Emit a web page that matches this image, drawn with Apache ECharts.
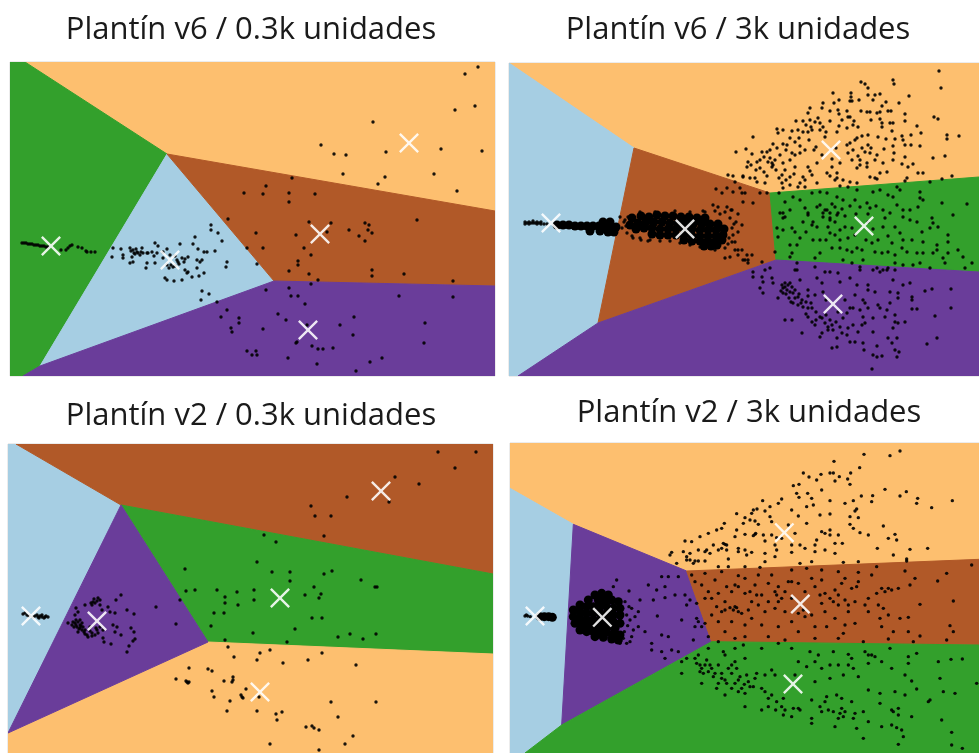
<!DOCTYPE html>
<html>
<head>
<meta charset="utf-8">
<title>Plantín</title>
<script src="https://cdn.jsdelivr.net/npm/echarts@6/dist/echarts.min.js"></script>
<style>
  html, body { margin: 0; padding: 0; background: #fff; }
  #main { width: 979px; height: 753px; filter: blur(0.7px); }
</style>
</head>
<body>
<div id="main"></div>
<script>
const blue = '#a6cee3', green = '#33a02c', brown = '#b15928', orange = '#fdbf6f', purple = '#6a3d9a';

const titles = ['Plantín v6 / 0.3k unidades', 'Plantín v6 / 3k unidades', 'Plantín v2 / 0.3k unidades', 'Plantín v2 / 3k unidades'];

// zonas de cada panel, vértices
const zonesA = [
  { color: orange, pts: [[25,62],[495,62],[495,211],[167,154]] },
  { color: green, pts: [[10,62],[25,62],[167,154],[40,366],[23,376],[10,376]] },
  { color: blue, pts: [[167,154],[274,281],[40,366]] },
  { color: brown, pts: [[167,154],[495,211],[495,286],[274,281]] },
  { color: purple, pts: [[274,281],[495,286],[495,376],[23,376],[40,366]] }
];
const zonesB = [
  { color: orange, pts: [[509,63],[979,63],[979,177],[770,193],[634,148]] },
  { color: blue, pts: [[509,63],[634,148],[598,323],[518,376],[509,376]] },
  { color: brown, pts: [[634,148],[770,193],[776,260],[598,323]] },
  { color: green, pts: [[770,193],[979,177],[979,272],[776,260]] },
  { color: purple, pts: [[598,323],[776,260],[979,272],[979,376],[518,376]] }
];
const zonesC = [
  { color: blue, pts: [[8,444],[16,444],[121,505],[8,733]] },
  { color: brown, pts: [[16,444],[493,444],[493,574],[121,505]] },
  { color: green, pts: [[121,505],[493,574],[493,654],[208,642]] },
  { color: orange, pts: [[208,642],[493,654],[493,753],[8,753],[8,733]] },
  { color: purple, pts: [[121,505],[208,642],[8,733]] }
];
const zonesD = [
  { color: orange, pts: [[15,24],[1422,24],[1422,373],[545,408],[205,268],[15,160]] },
  { color: blue, pts: [[15,160],[205,268],[170,870],[60,954],[15,954]] },
  { color: purple, pts: [[205,268],[545,408],[620,620],[170,870]] },
  { color: brown, pts: [[545,408],[1422,373],[1422,630],[620,620]] },
  { color: green, pts: [[620,620],[1422,630],[1422,954],[60,954],[170,870]] }
];

// centros (cruces blancas)
const centersA = [[51,246],[170,260],[320,234],[409,143],[308,330]];
const centersB = [[551,223],[685,229],[864,226],[831,150],[833,304]];
const centersC = [[31,616],[97,621],[280,598],[381,491],[260,692]];
const centersD = [[90,543],[292,547],[886,507],[838,293],[864,747]];

// puntos sueltos
const pointsA = [
  [22,243],[24,243],[26,243],[28,244],[30,244],[32,244],[34,245],[36,245],[38,245],[40,246],[42,246],[44,246],[46,247],[48,247],[61,250],[66,250],[68,248],[70,246],[72,245],[78,247],[82,248],[86,251],[87,252],[91,252],[95,252],
  [113,248],[121,249],[112,257],[123,255],[123,258],[130,248],[133,250],[134,253],[137,252],[132,257],[135,254],[138,253],[142,248],[140,255],[143,253],[147,253],[148,253],[155,243],[158,246],[152,252],[157,253],[154,256],[163,252],[167,249],[180,244],[195,237],[193,244],[198,249],[204,252],[207,252],[215,251],[211,225],[211,230],[218,233],[222,241],[247,248],[130,263],[133,262],[146,268],[147,263],[155,263],[165,278],[167,280],[174,281],[182,280],[185,270],[188,272],[187,273],[192,277],[199,276],[204,273],[197,268],[200,262],[197,260],[202,260],[227,262],[226,267],[202,291],[209,294],[201,300],[170,255],[171,265],[173,267],[177,260],[182,258],[185,259],[178,262],[188,257],[167,265],[163,258],[131,251],[136,249],[141,252],[175,256],[179,264],[169,268],[175,266],[184,262],
  [217,302],[227,310],[221,317],[239,318],[239,323],[231,328],[232,332],[247,351],
  [478,67],[465,74],[475,106],[455,110],[373,122],[321,145],[334,154],[346,155],[386,152],[441,149],[482,151],[343,174],[385,177],[378,184],[434,174],[457,191],[292,178],[266,186],[263,194],[289,193],[289,202],[315,194],[244,193],[228,219],
  [309,222],[331,223],[256,233],[296,235],[327,232],[349,230],[365,223],[369,225],[368,230],[372,233],[359,236],[365,241],[417,220],[263,248],[304,248],[311,255],[298,261],[298,265],[257,264],[289,271],[309,274],[318,280],[311,284],[372,270],[372,276],[404,274],[453,281],[266,290],[289,288],[291,296],[298,296],[305,304],[399,296],[453,297],[278,314],[286,320],[263,329],[307,325],[354,317],[340,325],[353,335],[425,323],[424,343],[296,343],[297,342],[312,346],[318,349],[323,349],[333,348],[256,351],[257,355],[252,355],[288,358],[317,364],[370,362],[382,358],[356,371]
];
const pointsB = [
  [939,71],[941,88],[861,82],[865,84],[868,88],[893,80],[894,84],[833,93],[851,93],[851,97],[850,101],[852,101],[859,100],[868,95],[875,95],[880,94],[873,100],[909,96],[886,102],[882,106],[899,103],[839,100],[834,103],[823,103],[822,108],[810,108],[808,113],[830,111],[838,110],[839,114],[847,111],[861,111],[867,112],[870,112],[877,113],[880,112],[888,111],[891,111],[905,114],[934,117],[938,119],[905,121],[796,121],[803,121],[810,120],[815,122],[818,118],[820,123],[830,121],[848,117],[850,117],[854,121],[853,125],[871,120],[880,119],[882,123],[882,127],[890,123],[893,123],[917,126],[777,129],[778,133],[783,130],[792,131],[798,130],[803,132],[808,132],[811,127],[823,127],[820,130],[839,126],[837,132],[847,128],[892,131],[921,133],[947,135],[947,139],[959,136],[911,135],[868,135],[862,136],[857,138],[753,137],[878,137],[886,139],[895,139],[902,136],[903,140],[905,145],[911,145],[920,146],[893,146],[799,138],[795,142],[787,145],[783,144],[809,140],[825,137],[746,149],[773,144],[777,148],[847,145],[850,143],[855,140],[862,148],[868,145],[816,147],[814,150],[762,152],[767,152],[752,154],[780,155],[792,153],[795,155],[800,153],[822,155],[853,150],[848,153],[865,152],[870,153],[877,155],[894,153],[905,157],[933,158],[945,156],[770,158],[772,163],[768,162],[760,160],[757,162],[748,162],[783,163],[790,160],[817,163],[832,159],[840,163],[852,160],[860,160],[860,165],[867,163],[875,160],[883,163],[893,160],[902,164],[913,164],[908,167],[772,167],[773,165],[747,167],[760,168],[785,170],[795,167],[808,167],[810,171],[832,167],[857,168],[867,167],[887,172],[880,173],[918,173],[923,173],[827,173],[837,173],[830,176],[750,178],[755,178],[743,176],[767,176],[782,175],[790,177],[803,177],[805,180],[817,183],[837,178],[835,180],[843,180],[850,182],[857,183],[870,177],[875,178],[907,178],[905,181],[952,176],[942,179],[930,182],[782,183],[790,185],[783,188],[798,187],[805,187],[757,182],[765,183],[840,186],[848,187],[877,179],
  [764,157],[770,150],[775,160],[756,170],[764,172],[776,170],[751,165],[779,178],[786,180],[794,174],[800,183],[812,175],[786,150],[800,146],[805,150],[790,138],[806,125],[812,130],[826,132],[842,120],[858,127],[836,148],[858,156],[871,148],[884,149],
  [740,188],[745,193],[743,202],[753,203],[760,193],[767,193],[779,193],[785,202],[793,197],[800,200],[812,193],[820,192],[827,193],[837,197],[843,200],[857,190],[855,200],[873,192],[880,190],[888,195],[897,187],[900,190],[893,197],[920,192],[920,198],[923,200],[942,203],[967,204],[783,213],[790,210],[780,213],[805,208],[808,215],[817,207],[820,205],[827,210],[835,207],[838,213],[850,206],[860,207],[867,203],[870,208],[883,210],[897,205],[903,210],[910,210],[918,207],[953,215],[932,218],[783,218],[823,217],[830,218],
  [785,217],[808,213],[823,213],[837,215],[830,213],[813,222],[812,225],[817,227],[792,228],[795,232],[783,230],[830,220],[828,227],[840,230],[845,227],[852,228],[885,218],[883,227],[895,227],[903,217],[910,220],[917,222],[933,223],[938,227],[778,237],[777,228],[820,240],[813,240],[830,233],[835,235],[855,235],[848,238],[872,243],[878,240],[900,233],[903,240],[922,232],[930,228],[948,235],[948,242],[912,240],[923,242],[790,245],[797,245],[775,252],[792,253],[790,257],[820,253],[815,258],[832,248],[840,248],[847,250],[852,252],[857,248],[875,252],[882,253],[888,252],[902,248],[907,252],[917,253],[923,253],[937,245],[937,250],[933,253],[943,258],[948,253],[958,250],[963,257],[972,263],[965,268],[945,263],[863,260],[860,267],[852,263],[843,260],[877,268],[883,270],[888,268],[895,263],[903,265],[913,265],[920,263],[930,268],[815,267],[797,263],[795,270],
  [825,210],[832,204],[842,209],[856,214],[868,214],[876,206],[890,213],[835,222],[845,216],[868,222],[873,229],[888,236],[892,243],[803,222],[806,232],[800,238],[826,240],[840,240],[866,240],[862,250],[895,255],
  [742,250],[747,255],[748,260],[752,255],[745,260],[762,262],[748,263],
  [753,272],[765,270],[770,268],[753,277],[762,277],[763,282],[772,278],[773,283],[760,288],[763,293],[782,285],[785,283],[783,288],[788,285],[792,287],[787,290],[790,292],[793,293],[778,298],[783,293],[795,298],[798,297],[802,300],[793,303],[798,305],[803,307],[808,308],[812,308],[800,280],[808,290],[797,270],[817,278],[825,272],[830,272],[838,273],[840,282],[822,283],[850,278],[857,285],[868,285],[868,290],[860,270],[873,270],[880,272],[887,270],[895,270],[893,280],[903,285],[910,283],[875,292],[890,292],[898,293],[898,298],[912,297],[912,300],[925,291],[932,289],[951,289],[863,300],[865,303],[878,305],[880,308],[890,303],[912,309],[917,309],[951,308],[935,316],[850,308],[847,313],[853,308],[860,310],[868,308],[887,310],[885,317],[895,315],[898,323],[905,322],[895,322],[785,320],[792,320],[808,317],[812,322],[820,317],[822,318],[815,325],[825,323],[828,327],[832,325],[863,317],[873,318],[843,318],[862,325],[865,323],[893,328],[853,325],[802,333],[822,333],[820,337],[828,330],[840,327],[848,328],[858,332],[873,332],[837,338],[847,335],[855,342],[850,342],[888,338],[897,338],[892,343],[937,338],[927,344],[863,343],[864,350],[877,346],[832,348],[837,347],[895,350],[899,352],[897,357],[873,355],[882,356],[877,357],[872,369],
  [785,287],[790,283],[781,291],[786,294],[795,290],[799,294],[789,298],[791,302],[801,303],[806,302],[811,303],[806,314],[816,312],[826,315],[816,320],[830,320],[836,322],[842,333],[833,330],[838,312],[808,296],[815,295],[823,292],[826,300],[845,300],[855,295],
  [732,242],[735,250],[725,258],[730,257],[738,255],[743,260],[738,250],[736,152],[728,175],[733,176],[735,182],[743,177],[716,189],[722,193],[727,188],[733,192],[742,193],[713,205],[718,207],[727,207],[732,210],
  [525,222],[527,223],[529,222],[531,223],[533,223],[535,223],[537,224],[539,223],[541,224],[544,224],[547,224],[525,224],[529,224],[533,221],[537,222],[541,222],[620,217],[624,222],[622,228],[627,233],[633,238],[641,240],[648,241],[738,214],[734,224],[738,232],[731,210],[725,212],[715,211],[703,211],
  [640,212],[655,212],[675,211],[690,212],[705,212],[720,214],[730,218],[732,228],[733,235],[728,244],[725,248],[715,250],[700,247],[690,245],[680,243],[670,241],[660,241],[650,240],[640,238],[632,236],[626,226],[625,220],[628,217],[735,242],[729,238],[736,222],[742,225]
];
const pointsC = [
  [438,452],[476,452],[455,468],[395,477],[419,484],[347,497],[389,502],[311,506],[315,516],[331,516],[324,536],[264,535],[276,542],[257,562],[272,572],[290,572],[290,581],[324,574],[332,571],[361,580],[375,587],[377,587],[185,569],[186,591],[195,590],[217,590],[237,592],[254,590],[254,600],[225,597],[225,603],[238,605],[314,587],[305,595],[321,594],[319,598],[214,613],[224,613],[211,626],[312,618],[322,618],[295,629],[253,633],[338,637],[350,634],[363,639],[376,634],[225,640],[287,642],[228,647],[234,657],[260,653],[270,650],[257,660],[283,663],[308,660],[322,653],[356,665],[189,668],[208,669],[212,671],[176,679],[187,682],[188,683],[186,681],[189,682],[224,681],[232,682],[233,677],[233,680],[212,691],[214,697],[242,697],[243,698],[241,695],[246,689],[230,701],[259,697],[227,711],[257,711],[276,714],[282,712],[277,720],[331,702],[376,702],[338,717],[306,727],[312,726],[314,728],[319,730],[353,736],[270,744],[345,744],[319,750],
  [156,607],[176,624],[180,600],[121,595],[116,600],[127,610],[134,614],[115,613],[131,628],[134,632],[135,639],[133,641],[129,646],[127,652],[121,635],[111,644],[103,638],[104,642],[115,632],[113,625],[117,627],
  [98,598],[100,600],[93,602],[92,605],[100,605],[85,605],[76,608],[78,612],[75,615],[108,607],[102,610],[68,623],[72,625],[75,623],[78,622],[82,623],[77,627],[80,628],[78,632],[85,630],[87,635],[92,633],[95,635],[98,633],[90,627],[103,630],[100,627],[110,612],[80,625],[83,627],[88,637],[97,630],[94,599],[91,603],[76,620],[74,627],[80,620],[84,632],[90,631],[96,628],[81,626],[73,622],[95,603],[97,601],[79,629],[82,630],[85,634],[92,636],[76,625],
  [23,614],[27,615],[35,616],[38,617],[42,617],[45,617],[48,617],[37,615],[42,615],[25,613],[29,616],[33,617],[40,616],[44,618],[39,618],[46,616]
];
const pointsD = [
  [1077,58],[1155,62],[1185,48],[987,79],[1064,98],[975,114],[985,114],[895,114],[912,126],[948,118],[935,135],[990,138],[1003,125],[1028,132],[1037,114],[1035,148],[865,152],[882,148],[950,165],[1140,163],[1103,182],[1100,200],[1069,183],[1185,183],[1204,170],[875,175],[882,187],[908,175],[920,190],[975,197],[1020,205],[1045,197],[1238,190],[1235,205],[1342,197],[1280,218],[773,197],[830,192],[820,205],[795,215],[756,222],[780,228],[740,235],[695,236],[720,248],[795,245],[860,225],[880,243],[905,215],[925,210],[945,240],[975,237],[1055,222],[1050,228],[1035,245],[1060,248],[1035,268],[1045,280],[1065,293],[1090,300],[1135,273],[1150,310],[1170,298],[1175,315],[1117,340],[1215,343],[1268,340],[1165,360],[1205,372],[658,265],[635,285],[610,295],[585,305],[560,320],[540,318],[650,280],[715,265],[760,268],[695,285],[720,298],[750,298],[775,300],[800,300],[870,295],[950,290],[975,285],[990,325],[1012,325],[935,315],[930,330],[860,330],[885,330],[660,328],[625,330],[605,345],[500,352],[495,360],[515,385],[535,350],[555,355],[545,375],[565,385],[580,378],[600,378],[615,355],[640,345],[650,340],[665,345],[670,372],[700,340],[720,345],[740,352],[780,355],[815,345],[860,352],[900,340],[930,350],[960,345],[990,355],[810,365],[780,380],[670,395],[640,395],[720,395],[765,397],[885,385],[920,380],[1015,382],[1060,380],[1205,378],
  [655,325],[665,330],[545,365],[555,375],[570,378],[752,295],[745,302],[750,258],[735,255],[745,225],[800,260],[850,270],[905,265],[960,295],[975,300],[1000,300],[690,305],[700,350],[725,360],[600,350],[580,345],[780,318],[810,330],[830,310],[815,308],
  [1400,390],[1325,415],[1298,438],[1200,408],[1115,395],[1060,412],[1000,410],[950,405],[905,400],[860,405],[800,420],[760,420],[700,422],[650,410],[600,415],[560,420],[630,435],[570,440],[690,450],[720,430],[750,450],[790,445],[850,440],[880,445],[920,430],[950,435],[1020,430],[1060,440],[1100,420],[1230,430],[1215,450],[1180,460],[1150,460],[1115,475],[1090,490],[1040,460],[990,465],[960,475],[900,470],[840,470],[810,470],[770,480],[720,475],[680,470],[640,475],[600,490],[620,490],[660,500],[690,515],[740,500],[790,500],[820,500],[860,490],[950,505],[1000,510],[1050,500],[1080,510],[1120,510],[1135,520],[1245,508],[1345,498],[1150,540],[1185,550],[1210,547],[1125,550],[1090,530],[1030,530],[990,550],[960,530],[920,540],[880,535],[840,530],[780,530],[740,550],[700,530],[660,525],[620,540],[600,565],[580,560],[640,560],[680,560],[720,570],[770,570],[820,575],[860,560],[930,575],[965,575],[1020,570],[1050,565],[1130,575],[1165,590],[1210,590],[1245,603],[1335,572],[1345,590],[1325,615],[1225,620],[1150,612],[1075,620],[1015,595],[1000,610],[930,610],[880,590],[840,615],[790,605],[720,605],[690,610],[640,620],[660,590],
  [685,525],[675,518],[695,518],[710,535],[730,525],[755,480],[735,470],[700,455],[665,455],[820,455],[860,440],[815,480],[830,490],[975,490],[1000,480],[985,500],[1020,495],[1030,510],[1130,460],[1140,470],[1160,465],[1055,455],[1010,445],[760,510],[810,520],[895,525],[900,545],[930,455],[945,480],[650,530],[635,515],[610,470],[590,450],
  [335,435],[325,455],[372,468],[430,450],[455,465],[480,455],[470,425],[490,425],[520,425],[510,480],[540,480],[555,495],[545,510],[575,505],[530,555],[457,543],[405,495],[445,495],[480,488],[380,520],[400,530],[375,555],[400,575],[420,590],[380,605],[365,625],[440,625],[470,600],[490,605],[565,615],[610,605],[440,645],[470,650],[500,645],[520,650],[480,670],[575,550],[590,575],[570,575],[360,500],[365,540],[385,585],[355,610],[345,625],[372,515],[390,545],[368,572],[358,590],[375,620],
  [1155,640],[1100,660],[1080,650],[1030,658],[985,650],[940,660],[915,650],[860,640],[820,625],[770,640],[715,630],[690,640],[655,650],[610,640],[580,660],[530,680],[545,670],[575,685],[590,700],[610,710],[600,690],[620,700],[640,690],[660,660],[680,690],[695,700],[720,670],[680,715],[650,730],[625,725],[590,745],[530,715],[660,780],[635,760],[690,745],[710,760],[730,740],[750,730],[780,720],[800,705],[810,720],[770,760],[800,780],[720,815],[770,825],[790,790],[815,800],[835,790],[840,825],[860,845],[880,820],[920,795],[945,815],[965,785],[970,825],[920,850],[920,865],[995,780],[1020,830],[1000,850],[990,875],[1045,850],[1075,830],[1090,860],[1055,880],[1130,875],[1160,825],[1180,840],[1160,870],[1190,885],[1195,905],[1075,910],[1180,928],[1340,892],[1340,930],[1372,940],[1310,855],[1220,845],[1275,795],[1270,800],[1315,770],[1350,775],[1235,762],[1200,780],[1170,770],[1125,775],[1125,805],[1090,765],[1060,725],[1045,700],[1015,720],[975,730],[1000,690],[975,690],[930,680],[880,680],[870,720],[930,740],[1010,790],[1040,800],[1200,720],[1220,738],[1305,730],[1300,680],[1338,673],[1372,672],[1235,655],[1210,665],[1210,685],[1160,700],[1130,680],[1090,685],[1415,745],[1180,820],[700,735],[725,720],[585,710],[605,675],[630,715],[665,745],[745,755],[830,815],[865,820],[950,830],[1005,835],
  [570,670],[585,690],[595,715],[615,690],[650,715],[670,700],[690,680],[705,725],[718,748],[735,755],[755,715],[640,745],[660,735],[680,760],[700,770],[720,775],[780,770],[790,815],[812,825],[835,840],[885,825],[960,800],[985,830],[1015,845],[1010,820],[1050,835],[1165,830],[1175,878],[1030,690],[1090,660],[1110,665],[1040,670],[950,700],[905,695],
  [60,543],[68,543],[76,545],[64,540]
];

// zonas muy densas: puntos gruesos que se solapan
const denseB = [
  [557,225],[563,225],[569,225],[575,226],[581,226],[587,226],[593,226],[599,226],[605,227],[611,227],[616,227],[590,231],[600,231],[608,232],[614,232],[610,222],[603,222],
  [632,218],[641,216],[649,217],[657,215],[665,216],[673,216],[681,217],[689,217],[697,218],[705,218],[630,225],[638,223],[646,222],[654,222],[662,222],[670,223],[678,223],[686,223],[694,223],[702,224],[710,224],[718,224],[636,229],[644,228],[652,228],[660,229],[668,229],[676,229],[684,229],[692,229],[700,230],[708,230],[716,230],[724,229],[652,234],[660,235],[668,235],[676,235],[684,235],[692,236],[700,236],[708,236],[716,236],[723,235],[684,240],[692,241],[700,241],[708,241],[716,241],[722,240],[704,246],[711,246],[717,245]
];
const denseC = [];
const denseA = [];
const denseD = [
  [290,475],[310,480],[270,480],[250,495],[280,495],[300,495],[320,495],[340,500],[225,510],[245,515],[265,515],[285,515],[305,515],[325,520],[345,520],[205,525],[225,530],[245,535],[265,535],[285,535],[305,535],[325,540],[345,540],[205,545],[225,550],[245,555],[265,555],[285,555],[305,555],[325,560],[345,565],[210,565],[230,570],[250,575],[270,575],[290,575],[310,575],[330,580],[225,585],[245,590],[265,590],[285,592],[305,592],[325,597],[345,600],[270,605],[295,607],[320,612],[340,615],
  [105,545],[118,545],[131,545],[142,547]
];

// colocación de cada panel en la página y rango de sus ejes
const panels = [
  { box: [10, 62, 485, 314], xr: [10, 495], yr: [62, 376], zones: zonesA, pts: pointsA, dense: denseA, centers: centersA, title: [246, 10] },
  { box: [509, 63, 470, 313], xr: [509, 979], yr: [63, 376], zones: zonesB, pts: pointsB, dense: denseB, centers: centersB, title: [733, 10] },
  { box: [8, 444, 485, 309], xr: [8, 493], yr: [444, 753], zones: zonesC, pts: pointsC, dense: denseC, centers: centersC, title: [246, 396] },
  { box: [510, 443, 469, 310], xr: [15, 1422], yr: [24, 954], zones: zonesD, pts: pointsD, dense: denseD, centers: centersD, title: [744, 393] }
];

const crossPath = 'path://M0 1.7L1.7 0L10 8.3L18.3 0L20 1.7L11.7 10L20 18.3L18.3 20L10 11.7L1.7 20L0 18.3L8.3 10Z';

const chart = echarts.init(document.getElementById('main'), null, { renderer: 'canvas' });

const grid = [], xAxis = [], yAxis = [], series = [], title = [];

panels.forEach(function (p, i) {
  grid.push({
    left: p.box[0], top: p.box[1], width: p.box[2], height: p.box[3],
    show: true, borderColor: '#d9d9d9', borderWidth: 1, backgroundColor: '#fff'
  });
  xAxis.push({ type: 'value', gridIndex: i, min: p.xr[0], max: p.xr[1], show: false });
  yAxis.push({ type: 'value', gridIndex: i, min: p.yr[0], max: p.yr[1], inverse: true, show: false });
  title.push({
    text: titles[i], left: p.title[0], top: p.title[1], textAlign: 'center',
    textStyle: { fontFamily: 'Open Sans', fontSize: 31, fontWeight: 'normal', color: '#1a1a1a' }
  });

  series.push({
    type: 'custom',
    xAxisIndex: i, yAxisIndex: i,
    silent: true,
    clip: true,
    data: p.zones.map(function (z, k) { return [k]; }),
    renderItem: function (params, api) {
      const zone = p.zones[api.value(0)];
      return {
        type: 'polygon',
        shape: { points: zone.pts.map(function (v) { return api.coord(v); }) },
        style: { fill: zone.color, stroke: zone.color, lineWidth: 1 }
      };
    }
  });
  series.push({
    type: 'scatter', xAxisIndex: i, yAxisIndex: i, silent: true,
    symbolSize: 9, data: p.dense, itemStyle: { color: '#000', opacity: 1 }
  });
  series.push({
    type: 'scatter', xAxisIndex: i, yAxisIndex: i, silent: true,
    symbolSize: 3.4, data: p.pts, itemStyle: { color: '#000', opacity: 0.9 }
  });
  series.push({
    type: 'scatter', xAxisIndex: i, yAxisIndex: i, silent: true,
    symbol: crossPath, symbolSize: 20, data: p.centers, z: 5,
    itemStyle: { color: '#fff', opacity: 0.88 }
  });
});

chart.setOption({
  animation: false,
  backgroundColor: '#fff',
  title: title,
  grid: grid,
  xAxis: xAxis,
  yAxis: yAxis,
  series: series
});
</script>
</body>
</html>
